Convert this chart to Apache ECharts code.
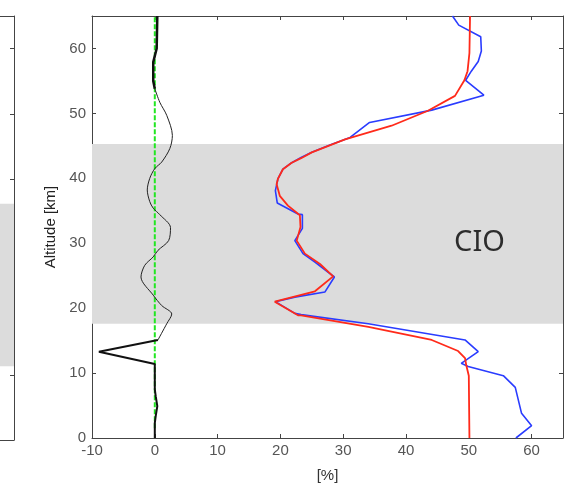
<!DOCTYPE html>
<html>
<head>
<meta charset="utf-8">
<script src="https://cdn.jsdelivr.net/npm/echarts@6/dist/echarts.min.js"></script>
<style>
html, body { margin: 0; padding: 0; background: #fff; }
#chart_cio { width: 576px; height: 488px; }
</style>
</head>
<body>
<div id="chart_cio"></div>
<script>
// 刻度
var xTicks = [-10, 65, 10];
var yTicks = [0, 65, 10];
// 灰色区域 (高度 km)
var bandMain = [17.6, 45.3];
var bandLeft = [11.3, 36.2];
// [%] , 高度
var blueData = [[57.5,0],[60.0,1.9],[58.4,3.8],[57.4,7.8],[55.5,9.6],[49.9,11.0],[48.8,11.5],[51.5,13.3],[49.4,15.1],[34.0,17.6],[23.3,19.0],[22.3,19.2],[19.2,21.0],[22.3,21.7],[27.1,22.5],[28.6,24.8],[25.5,27.1],[23.6,28.4],[22.3,30.4],[23.5,32.3],[23.5,34.4],[22.8,34.5],[19.5,36.2],[19.2,38.1],[19.6,39.9],[20.4,41.4],[21.8,42.4],[23.3,43.2],[25.0,44.0],[28.1,45.2],[31.1,46.3],[34.2,48.6],[44.1,50.5],[52.4,52.8],[49.5,55.1],[50.4,56.5],[51.5,58.0],[52.0,59.6],[51.9,61.8],[48.4,63.6],[47.4,65]];
var redData = [[50.1,0],[50.0,9.6],[49.6,11.2],[49.4,12.3],[48.3,13.4],[44.1,15.1],[34.0,17.1],[23.3,18.9],[22.8,18.9],[19.1,21.0],[25.5,22.6],[28.4,24.9],[26.3,26.8],[23.9,28.4],[22.6,30.4],[23.2,32.5],[23.1,34.3],[21.2,35.8],[19.9,37.3],[19.4,39.1],[19.6,39.9],[20.4,41.4],[21.8,42.4],[23.3,43.1],[25.0,44.0],[30.3,46.0],[37.7,48.1],[43.5,50.4],[47.8,52.7],[49.3,55.1],[49.8,56.5],[50.1,59.3],[50.2,65]];
var blackLow = [[0,0],[0,2.3],[0.15,3.4],[0.4,4.9],[0.15,6.4],[0,7.5],[0,11.4],[-8.9,13.3],[0.5,15.1]];
var blackMid = [[0.5,15.1],[1.9,17.6],[2.7,19.1],[1.1,20.4],[-0.25,22],[-2.2,24.8],[-1.6,26.6],[-0.25,27.9],[0.5,28.9],[2.2,30.4],[2.5,32.4],[0.8,34.4],[-0.25,35.4],[-0.8,36.4],[-1.2,38.2],[-0.8,40],[0,41.5],[1.1,42.5],[2.4,44.6],[2.8,46.6],[1.9,49.7],[0.8,51.7],[0,53.8]];
var blackHigh = [[0,53.8],[-0.25,55],[-0.25,57.9],[0.3,60],[0.4,65]];
var greenData = [[0,1.5],[0,65]];
var cioLabel = [[51.7, 30.1, 'CIO']];

var axisColor = '#444';
var labelFont = 'Liberation Sans';

function mirrorX(grid, pos) {
	return {
		type: 'value', gridIndex: grid, position: pos,
		min: xTicks[0], max: xTicks[1], interval: xTicks[2],
		axisLine: { show: true, onZero: false, lineStyle: { color: axisColor } },
		axisTick: { show: true, inside: true, length: 4, lineStyle: { color: axisColor } },
		axisLabel: { show: false },
		splitLine: { show: false }
	};
}
function mirrorY(grid, pos) {
	return {
		type: 'value', gridIndex: grid, position: pos,
		min: yTicks[0], max: yTicks[1], interval: yTicks[2],
		axisLine: { show: true, onZero: false, lineStyle: { color: axisColor } },
		axisTick: { show: true, inside: true, length: 4, lineStyle: { color: axisColor } },
		axisLabel: { show: false },
		splitLine: { show: false }
	};
}

var xMain = mirrorX(0, 'bottom');
xMain.name = '[%]';
xMain.nameLocation = 'middle';
xMain.nameGap = 30;
xMain.nameTextStyle = { color: '#333', fontSize: 15, fontFamily: labelFont };
xMain.axisLabel = { show: true, margin: 5, color: '#555', fontSize: 15, fontFamily: labelFont, showMaxLabel: false };

var yMain = mirrorY(0, 'left');
yMain.name = 'Altitude [km]';
yMain.nameLocation = 'middle';
yMain.nameGap = 34;
yMain.nameTextStyle = { color: '#222', fontSize: 15, fontFamily: labelFont };
yMain.axisLabel = { show: true, margin: 6, color: '#555', fontSize: 15, fontFamily: labelFont, showMaxLabel: false };

// 左边的小图
var leftX = mirrorX(1, 'bottom');
leftX.axisTick = { show: false };
var leftXTop = mirrorX(1, 'top');
leftXTop.axisTick = { show: false };
var leftY = mirrorY(1, 'right');
var leftYHidden = mirrorY(1, 'left');
leftYHidden.axisLine = { show: false };
leftYHidden.axisTick = { show: false };

var option_cio = {
	animation: false,
	backgroundColor: '#fff',
	grid: [
		{ left: 92, top: 16, right: 13, bottom: 48 },
		{ left: 0, top: 16, width: 14, height: 424 }
	],
	xAxis: [xMain, mirrorX(0, 'top'), leftX, leftXTop],
	yAxis: [yMain, mirrorY(0, 'right'), leftY, leftYHidden],
	series: [{
		type: 'line', xAxisIndex: 2, yAxisIndex: 2, data: [], silent: true,
		markArea: { silent: true, itemStyle: { color: '#dcdcdc' }, data: [[{ yAxis: bandLeft[0] }, { yAxis: bandLeft[1] }]] }
	}, {
		type: 'line', xAxisIndex: 0, yAxisIndex: 0, data: greenData, showSymbol: false,
		lineStyle: { color: '#22e622', width: 2, type: [5, 2] },
		markArea: { silent: true, itemStyle: { color: '#dcdcdc' }, data: [[{ yAxis: bandMain[0] }, { yAxis: bandMain[1] }]] },
		z: 2
	}, {
		type: 'line', data: blackLow, showSymbol: false,
		lineStyle: { color: '#111', width: 2 }, z: 3
	}, {
		type: 'line', data: blackMid, showSymbol: false, smooth: 0.3,
		lineStyle: { color: '#222', width: 1 }, z: 3
	}, {
		type: 'line', data: blackHigh, showSymbol: false,
		lineStyle: { color: '#111', width: 2.5 }, z: 3
	}, {
		type: 'line', data: blueData, showSymbol: false,
		lineStyle: { color: '#2a3cff', width: 1.6 }, z: 4
	}, {
		type: 'line', data: redData, showSymbol: false,
		lineStyle: { color: '#ff2a1a', width: 1.8 }, z: 5
	}, {
		type: 'scatter', data: cioLabel, symbolSize: 0, silent: true,
		label: {
			show: true, position: 'inside', formatter: function(p) { return p.data[2]; },
			color: '#000', fontSize: 29, fontFamily: 'Noto Sans'
		}, z: 6
	}]
};
var cioChart = echarts.init(document.getElementById('chart_cio'));
cioChart.setOption(option_cio);
</script>
</body>
</html>
